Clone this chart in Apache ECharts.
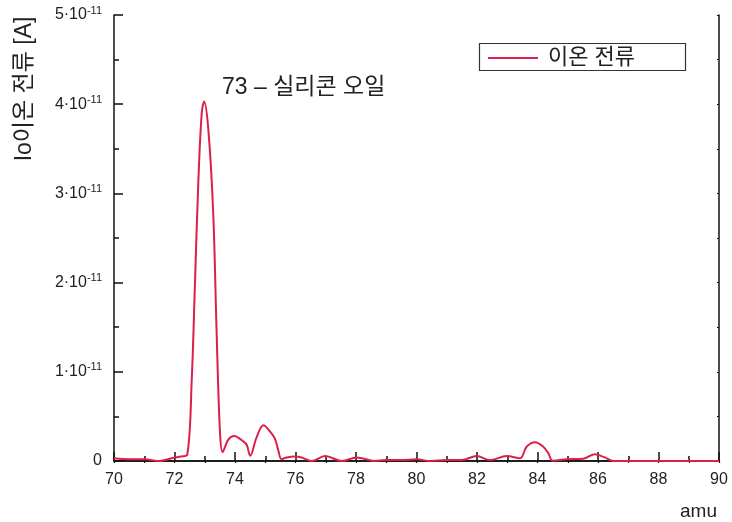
<!DOCTYPE html>
<html>
<head>
<meta charset="utf-8">
<script src="https://cdn.jsdelivr.net/npm/echarts@6/dist/echarts.min.js"></script>
<style>
html,body{margin:0;padding:0;background:#fff;}
#chart{width:732px;height:522px;}
</style>
</head>
<body>
<div id="chart"></div>
<script>
// amu values (x) and ion current in units of 1e-11 A (y)
const amu = [70.0, 70.5, 71.0, 71.5, 71.9, 72.2, 72.42, 72.57, 72.68, 72.79, 72.90, 72.98, 73.12, 73.28, 73.39, 73.50, 73.59, 73.78, 73.97, 74.27, 74.39, 74.50, 74.72, 74.94, 75.16, 75.32, 75.43, 75.54, 75.71, 75.98, 76.2, 76.53, 76.98, 77.53, 78.02, 78.46, 78.6, 79.0, 79.5, 80.0, 80.45, 81.0, 81.5, 81.99, 82.43, 82.98, 83.42, 83.64, 83.92, 84.19, 84.36, 84.50, 84.96, 85.51, 85.90, 86.23, 86.51, 87.0, 88.0, 89.0, 90.0];
const ionCurrent = [0.03, 0.02, 0.02, 0.00, 0.03, 0.05, 0.07, 0.91, 2.03, 3.15, 3.90, 4.03, 3.71, 2.78, 1.47, 0.35, 0.10, 0.24, 0.28, 0.22, 0.18, 0.06, 0.27, 0.40, 0.33, 0.25, 0.12, 0.02, 0.04, 0.05, 0.04, 0.00, 0.056, 0.00, 0.04, 0.01, 0.00, 0.01, 0.01, 0.02, 0.00, 0.01, 0.01, 0.056, 0.01, 0.056, 0.03, 0.16, 0.21, 0.16, 0.086, 0.004, 0.02, 0.026, 0.075, 0.04, 0.00, 0, 0, 0, 0];
const xTicks = [70, 72, 74, 76, 78, 80, 82, 84, 86, 88, 90];
const yTicks = [0, 1, 2, 3, 4, 5];
const seriesName = '이온 전류';
const yAxisTitle = 'Io이온 전류 [A]';
const xAxisTitle = 'amu';
const annotation = '73 – 실리콘 오일';

const latin = '"Liberation Sans", Arial, "Noto Sans CJK KR", sans-serif';
const lineColor = '#dc1f4b';
const axisColor = '#111';

const chart = echarts.init(document.getElementById('chart'), null, {renderer: 'canvas'});
chart.setOption({
  animation: false,
  backgroundColor: '#fff',
  grid: {left: 114, top: 15, right: 13, bottom: 61, containLabel: false},
  legend: {
    left: 483, top: 42,
    itemWidth: 50, itemHeight: 2, icon: 'rect',
    data: [seriesName],
    textStyle: {fontSize: 22, color: '#222', fontFamily: latin, padding: [0, 0, 0, 5]}
  },
  graphic: [
    {type: 'rect', shape: {x: 479.5, y: 43.5, width: 206, height: 27}, style: {fill: 'none', stroke: '#333', lineWidth: 1.2}, z: 10},
    {type: 'text', x: 25, y: 89, rotation: Math.PI / 2, style: {text: yAxisTitle, font: '23px ' + latin, fill: '#222', align: 'center', verticalAlign: 'middle'}},
    {type: 'text', x: 717, y: 512, style: {text: xAxisTitle, font: '19px ' + latin, fill: '#222', align: 'right', verticalAlign: 'middle'}},
    {type: 'text', x: 222, y: 88, style: {text: annotation, font: '23px ' + latin, fill: '#222', align: 'left', verticalAlign: 'middle'}}
  ],
  xAxis: [{
    type: 'value', min: 70, max: 90, interval: 2,
    axisLine: {show: true, onZero: false, lineStyle: {color: axisColor, width: 1.5}},
    axisTick: {inside: true, length: 9, lineStyle: {color: axisColor, width: 1.5}},
    minorTick: {show: true, splitNumber: 2, length: 5, lineStyle: {color: axisColor, width: 1.5}},
    splitLine: {show: false},
    axisLabel: {margin: 11, fontSize: 16, color: '#222', fontFamily: latin,
      formatter: v => xTicks.includes(v) ? String(v) : ''}
  }, {
    type: 'value', min: 70, max: 90, interval: 1, position: 'top',
    axisLine: {show: true, lineStyle: {color: axisColor, width: 1.5}},
    axisTick: {inside: true, length: 2, lineStyle: {color: axisColor, width: 1.2}},
    axisLabel: {show: false}, splitLine: {show: false}
  }],
  yAxis: [{
    type: 'value', min: 0, max: 5, interval: 1,
    axisLine: {show: true, onZero: false, lineStyle: {color: axisColor, width: 1.5}},
    axisTick: {inside: true, length: 9, lineStyle: {color: axisColor, width: 1.5}},
    minorTick: {show: true, splitNumber: 2, length: 5, lineStyle: {color: axisColor, width: 1.5}},
    splitLine: {show: false},
    axisLabel: {
      margin: 12, color: '#222',
      formatter: v => yTicks.includes(v) ? (v === 0 ? '{a|0}' : '{a|' + v + '·10}{s|-11}') : '',
      rich: {
        a: {fontSize: 16, fontFamily: latin, color: '#222', lineHeight: 20},
        s: {fontSize: 11, fontFamily: latin, color: '#222', verticalAlign: 'top', lineHeight: 12}
      }
    }
  }, {
    type: 'value', min: 0, max: 5, interval: 0.5, position: 'right',
    axisLine: {show: true, lineStyle: {color: axisColor, width: 1.5}},
    axisTick: {inside: true, length: 2, lineStyle: {color: axisColor, width: 1.2}},
    axisLabel: {show: false}, splitLine: {show: false}
  }],
  series: [{
    name: seriesName,
    type: 'line',
    xAxisIndex: 0, yAxisIndex: 0,
    data: amu.map((x, i) => [x, ionCurrent[i]]),
    symbol: 'none',
    smooth: 0.35,
    lineStyle: {color: lineColor, width: 2},
    itemStyle: {color: lineColor},
    z: 5
  }]
});
</script>
</body>
</html>
